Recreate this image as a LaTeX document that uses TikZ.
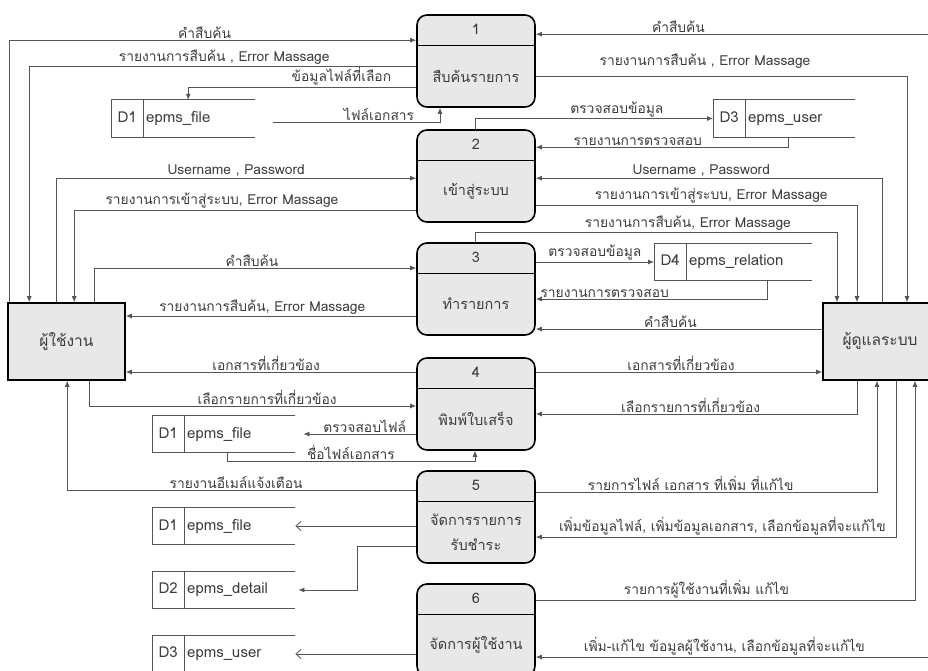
\documentclass[tikz,border=0pt]{standalone}
\usepackage{fontspec}
\setmainfont{Loma}[Script=Thai]
\usetikzlibrary{arrows.meta}
\definecolor{boxgray}{RGB}{232,232,232}
\definecolor{linegray}{RGB}{85,85,85}
\definecolor{textgray}{RGB}{60,60,60}
\newcommand{\widthproc}{118pt}
\newcommand{\heightproc}{92pt}
\newcommand{\widthstore}{143pt}
\tikzset{
    common/.style={draw=black, line width=1.6pt, fill=boxgray, text=textgray},
    proc/.style={common, rectangle, rounded corners=10pt, minimum width=\widthproc, minimum height=\heightproc,
        path picture={
            \draw[black, line width=0.9pt]
                ([yshift=-30pt]path picture bounding box.north west) -- ([yshift=-30pt]path picture bounding box.north east);
        }
    },
    entity/.style={common, rectangle, minimum height=77pt, font=\fontsize{15.5}{18}\selectfont},
    ptext/.style={text=textgray, align=center, inner sep=0pt, font=\fontsize{14.5}{17}\selectfont},
    store/.style={anchor=west, minimum height=37pt, text width=#1, inner xsep=0pt, align=left, text=textgray,
        font=\fontsize{15}{17}\selectfont},
    store/.default=\widthstore,
    storeline/.style={draw=linegray, line width=0.8pt},
    flow/.style={draw=linegray, line width=0.8pt, -{Latex[length=6pt, width=5pt]}},
    openflow/.style={flow, -{Straight Barb[length=5pt, width=9pt]}},
    lbl/.style={above, inner sep=1.5pt, text=textgray}
}
\newcommand{\storetext}[2]{\makebox[32pt]{#1}\hspace{3pt}#2}

\begin{document}
\begin{tikzpicture}[x=1pt, y=-1pt, every node/.append style={font=\fontsize{13.8}{16}\selectfont}]
    \useasboundingbox (0,0) rectangle (928,671);
    \clip (0,0) rectangle (928,671);

    \foreach \i/\y/\t in {1/61/{สืบค้นรายการ}, 2/176/{เข้าสู่ระบบ}, 3/289/{ทำรายการ},
                          4/404/{พิมพ์ใบเสร็จ}, 5/517/{จัดการรายการ\\[8pt]รับชำระ}, 6/630/{จัดการผู้ใช้งาน}} {
        \node[proc] (p\i) at (476,\y) {};
        \node[ptext] (n\i) at ([yshift=-15pt]p\i.north) {\i};
        \node[ptext] (t\i) at ([yshift=-15pt]p\i.center) {\t};
    }

    \node[entity, minimum width=117pt] (user) at (66.5,341.5) {ผู้ใช้งาน};
    \node[entity, minimum width=114pt] (admin) at (880,341.5) {ผู้ดูแลระบบ};

    \node[store=144pt] (d1top) at (111,118.5) {\storetext{D1}{epms\_file}};
    \node[store=142pt] (d3top) at (713,118.5) {\storetext{D3}{epms\_user}};
    \node[store=158pt] (d4) at (654,262) {\storetext{D4}{epms\_relation}};
    \node[store] (d1mid) at (152,434) {\storetext{D1}{epms\_file}};
    \node[store] (d1bot) at (152,526) {\storetext{D1}{epms\_file}};
    \node[store] (d2) at (152,590) {\storetext{D2}{epms\_detail}};
    \node[store] (d3bot) at (152,654) {\storetext{D3}{epms\_user}};

    \foreach \s in {d1top, d3top, d4, d1mid, d1bot, d2, d3bot}
        \draw[storeline] (\s.north east) -- (\s.north west) -- (\s.south west) -- (\s.south east)
            ([xshift=32pt]\s.north west) -- ([xshift=32pt]\s.south west);

    \draw[flow] ([xshift=2pt]user.north west) |- node[lbl, pos=.74] {คำสืบค้น} ([yshift=-26pt]p1.north west);
    \draw[flow] ([yshift=-52pt]p1.north west) -| node[lbl, pos=.248] {รายงานการสืบค้น , Error Massage} ([xshift=22pt]user.north west);
    \draw[flow] ([yshift=-73pt]p1.north west) -| node[lbl, pos=.164] {ข้อมูลไฟล์ที่เลือก} ([xshift=5pt]d1top.north);
    \draw[flow] ([xshift=18pt, yshift=-3.5pt]d1top.east) -| node[lbl, pos=.317] {ไฟล์เอกสาร} ([xshift=-36pt]p1.south);
    \draw[flow] ([xshift=52pt]admin.north) |- node[lbl, pos=.82] {คำสืบค้น} ([yshift=-20pt]p1.north east);
    \draw[flow] ([yshift=-62pt]p1.north east) -| node[lbl, pos=.228, yshift=6pt] {รายงานการสืบค้น , Error Massage} ([xshift=27pt]admin.north);

    \draw[flow] ([xshift=-1pt]p2.north) |- node[lbl, pos=.798] {ตรวจสอบข้อมูล} (d3top.west);
    \draw[flow] ([xshift=75pt]d3top.south west) |- node[lbl, pos=.798] {รายงานการตรวจสอบ} ([yshift=-18pt]p2.north east);
    \draw[flow] ([xshift=2pt]admin.north) |- node[lbl, pos=.761] {Username , Password} ([yshift=-49pt]p2.north east);
    \draw[flow] ([yshift=-76pt]p2.north east) -| node[lbl, pos=.273] {รายงานการเข้าสู่ระบบ, Error Massage} ([xshift=-23pt]admin.north);
    \draw[flow] ([xshift=49pt]user.north west) |- node[lbl, pos=.75] {Username , Password} ([yshift=-49pt]p2.north west);
    \draw[flow] ([yshift=-81pt]p2.north west) -| node[lbl, pos=.284] {รายงานการเข้าสู่ระบบ, Error Massage} ([xshift=67pt]user.north west);

    \draw[flow] ([xshift=-1pt]p3.north) -- ++(0,-10) -| node[lbl, pos=.294] {รายงานการสืบค้น, Error Massage} ([xshift=-43pt]admin.north);
    \draw[flow] ([yshift=27pt]p3.east) -- node[lbl] {ตรวจสอบข้อมูล} (d4.west);
    \draw[flow] ([xshift=113pt]d4.south west) |- node[lbl, pos=.851] {รายงานการตรวจสอบ} ([yshift=-10pt]p3.east);
    \draw[flow] ([yshift=12.5pt]admin.west) -- node[lbl, pos=.53] {คำสืบค้น} ([yshift=-40pt]p3.east);
    \draw[flow] ([xshift=87pt]user.north west) |- node[lbl, pos=.745] {คำสืบค้น} ([yshift=21pt]p3.west);
    \draw[flow] ([yshift=-27pt]p3.west) -- node[lbl, pos=.53] {รายงานการสืบค้น, Error Massage} ([yshift=25.5pt]user.east);

    \draw[flow] ([yshift=32pt]p4.east) -- node[lbl, pos=.507] {เอกสารที่เกี่ยวข้อง} ([yshift=-30.5pt]admin.west);
    \draw[flow] ([xshift=-23pt]admin.south) |- node[lbl, pos=.759] {เลือกรายการที่เกี่ยวข้อง} ([yshift=-10pt]p4.east);
    \draw[flow] ([yshift=32pt]p4.west) -- node[lbl, pos=.517] {เอกสารที่เกี่ยวข้อง} ([yshift=-30.5pt]user.east);
    \draw[flow] ([xshift=82pt]user.south west) |- node[lbl, pos=.772] {เลือกรายการที่เกี่ยวข้อง} ([yshift=-2pt]p4.west);
    \draw[flow] ([yshift=-30pt]p4.west) -- node[lbl, pos=.456] {ตรวจสอบไฟล์} ([xshift=8pt]d1mid.east);
    \draw[flow] ([xshift=75pt]d1mid.south west) -- ++(0,9) -| node[lbl, pos=.25] {ชื่อไฟล์เอกสาร} ([xshift=-1pt]p4.south);

    \draw[flow] ([yshift=-20pt]p5.north west) -| node[lbl, pos=.258] {รายงานอีเมล์แจ้งเตือน} ([xshift=60pt]user.south west);
    \draw[openflow] ([yshift=-9pt]p5.west) -- (d1bot.east);
    \draw[flow] ([yshift=-29pt]p5.west) -- ++(-59,0) |- ([xshift=3pt]d2.east);
    \draw[flow] ([yshift=25pt]p5.east) -| node[lbl, pos=.227] {รายการไฟล์ เอกสาร ที่เพิ่ม ที่แก้ไข} ([xshift=-3pt]admin.south);
    \draw[flow] ([xshift=16pt]admin.south) |- node[lbl, pos=.741] {เพิ่มข้อมูลไฟล์, เพิ่มข้อมูลเอกสาร, เลือกข้อมูลที่จะแก้ไข} ([yshift=-20pt]p5.east);

    \draw[openflow] ([yshift=-24pt]p6.west) -- (d3bot.east);
    \draw[flow] ([yshift=30pt]p6.east) -| node[lbl, pos=.225] {รายการผู้ใช้งานที่เพิ่ม แก้ไข} ([xshift=35pt]admin.south);
    \draw[flow] ([xshift=52pt]admin.south) |- node[lbl, pos=.762] {เพิ่ม-แก้ไข ข้อมูลผู้ใช้งาน, เลือกข้อมูลที่จะแก้ไข} ([yshift=-27pt]p6.east);
\end{tikzpicture}
\end{document}
